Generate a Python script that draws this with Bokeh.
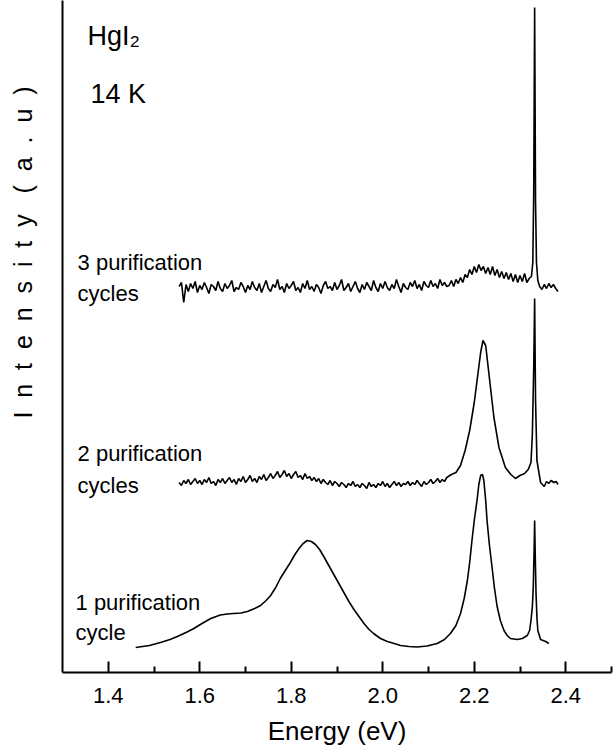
from bokeh.plotting import figure
from bokeh.models import Range1d, FixedTicker, Label, Title
from bokeh.embed import file_html
from bokeh.resources import INLINE

# ---------------- data (energy in eV, intensity in arbitrary units) ----------------
tick_vals = [1.4, 1.6, 1.8, 2.0, 2.2, 2.4]
tick_labels = ["1.4", "1.6", "1.8", "2.0", "2.2", "2.4"]
minor_vals = [1.5, 1.7, 1.9, 2.1, 2.3, 2.5]

# 1 purification cycle
c1_e = [1.460, 1.490, 1.514, 1.535, 1.551, 1.570, 1.587, 1.605, 1.624, 1.645,
        1.660, 1.674, 1.690, 1.704, 1.720, 1.733, 1.745, 1.755, 1.766, 1.776,
        1.787, 1.798, 1.808, 1.817, 1.826, 1.835, 1.844, 1.853, 1.862, 1.871,
        1.882, 1.893, 1.904, 1.915, 1.926, 1.937, 1.948, 1.959, 1.970, 1.980,
        1.995, 2.010, 2.025, 2.039, 2.057, 2.075, 2.097, 2.119, 2.135, 2.148,
        2.160, 2.170, 2.178, 2.185, 2.190, 2.195, 2.200, 2.206, 2.210, 2.214,
        2.218, 2.221, 2.225, 2.228, 2.233, 2.239, 2.244, 2.250, 2.257, 2.265,
        2.272, 2.279, 2.294, 2.305, 2.316, 2.321, 2.324, 2.327, 2.329, 2.331,
        2.332, 2.333, 2.335, 2.337, 2.339, 2.345, 2.356, 2.363]
c1_i = [25, 27, 30, 33, 36, 40, 44, 49, 54, 57.5,
        58.5, 59, 59.5, 61, 64, 67, 72, 77, 85, 94,
        102, 110, 118, 124, 129, 132, 131, 128, 123, 116,
        107, 98, 89, 80, 71, 63, 56, 49, 43, 39,
        34, 31, 29, 27, 26, 25.5, 26.5, 29, 33, 39,
        47, 59, 74, 92, 110, 132, 152, 172, 188, 197,
        198, 192, 172, 152, 128, 105, 85, 66, 52, 42,
        37, 34, 33, 34, 37, 42, 52, 66, 85, 125,
        152, 125, 80, 55, 42, 33, 31, 29]

# common energy grid of the noisy flat parts (2 and 3 cycles)
e_grid = [1.555, 1.560, 1.565, 1.570, 1.575, 1.580, 1.585, 1.590, 1.595, 1.600,
          1.605, 1.610, 1.615, 1.620, 1.625, 1.630, 1.635, 1.640, 1.645, 1.650,
          1.655, 1.660, 1.665, 1.670, 1.675, 1.680, 1.685, 1.690, 1.695, 1.700,
          1.705, 1.710, 1.715, 1.720, 1.725, 1.730, 1.735, 1.740, 1.745, 1.750,
          1.755, 1.760, 1.765, 1.770, 1.775, 1.780, 1.785, 1.790, 1.795, 1.800,
          1.805, 1.810, 1.815, 1.820, 1.825, 1.830, 1.835, 1.840, 1.845, 1.850,
          1.855, 1.860, 1.865, 1.870, 1.875, 1.880, 1.885, 1.890, 1.895, 1.900,
          1.905, 1.910, 1.915, 1.920, 1.925, 1.930, 1.935, 1.940, 1.945, 1.950,
          1.955, 1.960, 1.965, 1.970, 1.975, 1.980, 1.985, 1.990, 1.995, 2.000,
          2.005, 2.010, 2.015, 2.020, 2.025, 2.030, 2.035, 2.040, 2.045, 2.050,
          2.055, 2.060, 2.065, 2.070, 2.075, 2.080, 2.085, 2.090, 2.095, 2.100,
          2.105, 2.110, 2.115, 2.120, 2.125, 2.130, 2.135, 2.140]

# 2 purification cycles
c2_base = [190, 187, 192, 189, 193, 188, 191, 194, 189, 192,
           188, 193, 190, 195, 189, 191, 187, 193, 190, 194,
           189, 192, 195, 190, 193, 188, 194, 191, 196, 190,
           193, 197, 191, 194, 190, 196, 193, 198, 192, 195,
           199, 194, 197, 201, 195, 198, 202, 196, 199, 194,
           198, 201, 195, 197, 193, 199, 194, 196, 192, 195,
           191, 194, 189, 193, 190, 188, 192, 187, 191, 189,
           186, 190, 188, 185, 189, 187, 191, 186, 188, 185,
           189, 187, 184, 190, 186, 188, 185, 189, 187, 191,
           186, 189, 185, 188, 191, 187, 190, 186, 189, 188,
           191, 187, 190, 188, 192, 189, 186, 191, 188, 190,
           193, 189, 191, 194, 190, 193, 191, 195]
c2_peak_e = [2.150, 2.160, 2.170, 2.180, 2.190, 2.200, 2.207, 2.214, 2.219, 2.225,
             2.232, 2.243, 2.254, 2.268, 2.280, 2.290, 2.300, 2.310, 2.318, 2.324,
             2.327, 2.330, 2.332, 2.334, 2.337, 2.345, 2.353, 2.358, 2.363, 2.368,
             2.374, 2.379, 2.383]
c2_peak_i = [198, 200, 207, 222, 242, 270, 295, 320, 332, 327,
             299, 255, 225, 205, 198, 194, 197, 199, 203, 210,
             238, 305, 374, 272, 212, 190, 186, 191, 189, 192,
             190, 191, 188]

# 3 purification cycles
c3_base = [386, 390, 370, 388, 381, 389, 384, 391, 380, 387,
           383, 390, 385, 379, 388, 386, 382, 391, 384, 381,
           389, 384, 387, 392, 381, 385, 383, 390, 386, 380,
           387, 383, 391, 385, 382, 389, 380, 386, 392, 384,
           381, 388, 385, 393, 383, 386, 380, 389, 384, 387,
           391, 382, 385, 380, 389, 384, 392, 383, 386, 381,
           388, 385, 379, 387, 391, 384, 386, 382, 390, 383,
           387, 393, 382, 385, 389, 381, 386, 391, 384, 380,
           388, 383, 390, 386, 382, 392, 385, 381, 389, 384,
           391, 385, 382, 388, 384, 393, 386, 380, 389, 385,
           383, 390, 386, 392, 384, 388, 382, 391, 387, 385,
           392, 386, 389, 384, 393, 387, 390, 386]
c3_peak_e = [2.145, 2.150, 2.155, 2.160, 2.165, 2.170, 2.175, 2.180, 2.185, 2.190,
             2.195, 2.200, 2.205, 2.210, 2.215, 2.220, 2.225, 2.230, 2.235, 2.240,
             2.245, 2.250, 2.255, 2.260, 2.265, 2.270, 2.275, 2.280, 2.285, 2.290,
             2.295, 2.300, 2.305, 2.310, 2.315, 2.320, 2.325, 2.328, 2.330, 2.332,
             2.334, 2.336, 2.339, 2.343, 2.348, 2.353, 2.358, 2.363, 2.368, 2.373,
             2.378, 2.383]
c3_peak_i = [387, 392, 386, 393, 389, 395, 390, 398, 395, 403,
             398, 406, 400, 408, 402, 406, 399, 405, 398, 406,
             397, 403, 395, 401, 394, 400, 393, 399, 391, 398,
             390, 397, 391, 399, 390, 394, 396, 410, 480, 665,
             470, 410, 392, 386, 383, 388, 384, 389, 385, 388,
             384, 381]

c2_e = e_grid + c2_peak_e
c2_i = c2_base + c2_peak_i
c3_e = e_grid + c3_peak_e
c3_i = c3_base + c3_peak_i

# ---------------- figure ----------------
FONT = "Liberation Sans"
p = figure(width=616, height=751, output_backend="svg", toolbar_location=None,
           x_range=Range1d(1.3, 2.5), y_range=Range1d(0, 672),
           min_border_left=62, min_border_right=5, min_border_top=0,
           min_border_bottom=79)
p.outline_line_color = None
p.xgrid.visible = False
p.ygrid.visible = False
p.background_fill_color = "white"
p.border_fill_color = "white"

xa = p.xaxis[0]
xa.ticker = FixedTicker(ticks=tick_vals, minor_ticks=minor_vals)
xa.major_label_overrides = {v: s for v, s in zip(tick_vals, tick_labels)}
xa.axis_line_width = 2
xa.axis_line_color = "black"
xa.major_tick_in = 11
xa.major_tick_out = 0
xa.minor_tick_in = 6
xa.minor_tick_out = 0
xa.major_tick_line_width = 2
xa.minor_tick_line_width = 2
xa.major_tick_line_color = "black"
xa.minor_tick_line_color = "black"
xa.major_label_text_font = FONT
xa.major_label_text_font_size = "22px"
xa.major_label_text_color = "black"
xa.major_label_standoff = 15
xa.axis_label = "Energy (eV)"
xa.axis_label_text_font = FONT
xa.axis_label_text_font_size = "26px"
xa.axis_label_text_font_style = "normal"
xa.axis_label_text_color = "black"
xa.axis_label_standoff = 10

ya = p.yaxis[0]
ya.ticker = FixedTicker(ticks=[])
ya.axis_line_width = 2
ya.axis_line_color = "black"
ya.major_tick_in = 0
ya.major_tick_out = 0
ya.minor_tick_in = 0
ya.minor_tick_out = 0
# blank spacer label that keeps the rotated title away from the axis line
ya.axis_label = "\u00a0"
ya.axis_label_text_font_size = "14px"
ya.axis_label_standoff = 2

for ex, iy in ((c1_e, c1_i), (c2_e, c2_i), (c3_e, c3_i)):
    p.line(ex, iy, line_color="black", line_width=1.6)

def add_label(x, y, text, size):
    p.add_layout(Label(x=x, y=y, text=text, text_font=FONT, text_font_size=size,
                       text_color="black", text_baseline="alphabetic",
                       text_align="left"))

add_label(1.3548, 637, "HgI₂", "27px")
add_label(1.3613, 579, "14 K", "27px")
add_label(1.3329, 410, "3 purification", "22px")
add_label(1.3329, 379, "cycles", "22px")
add_label(1.3329, 219, "2 purification", "22px")
add_label(1.3329, 187, "cycles", "22px")
add_label(1.3285, 70, "1 purification", "22px")
add_label(1.3285, 40, "cycle", "22px")

ylab = "I\u00a0\u00a0n\u00a0\u00a0t\u00a0\u00a0e\u00a0\u00a0n\u00a0\u00a0s\u00a0\u00a0i\u00a0\u00a0t\u00a0\u00a0y\u00a0\u00a0\u00a0(\u00a0\u00a0a\u00a0\u00a0.\u00a0\u00a0u\u00a0\u00a0)"
ytitle = Title(text=ylab, align="right", offset=86, standoff=10,
               text_font=FONT, text_font_size="25px", text_font_style="normal",
               text_color="black")
p.add_layout(ytitle, "left")

open("out.html", "w").write(file_html(p, INLINE))
